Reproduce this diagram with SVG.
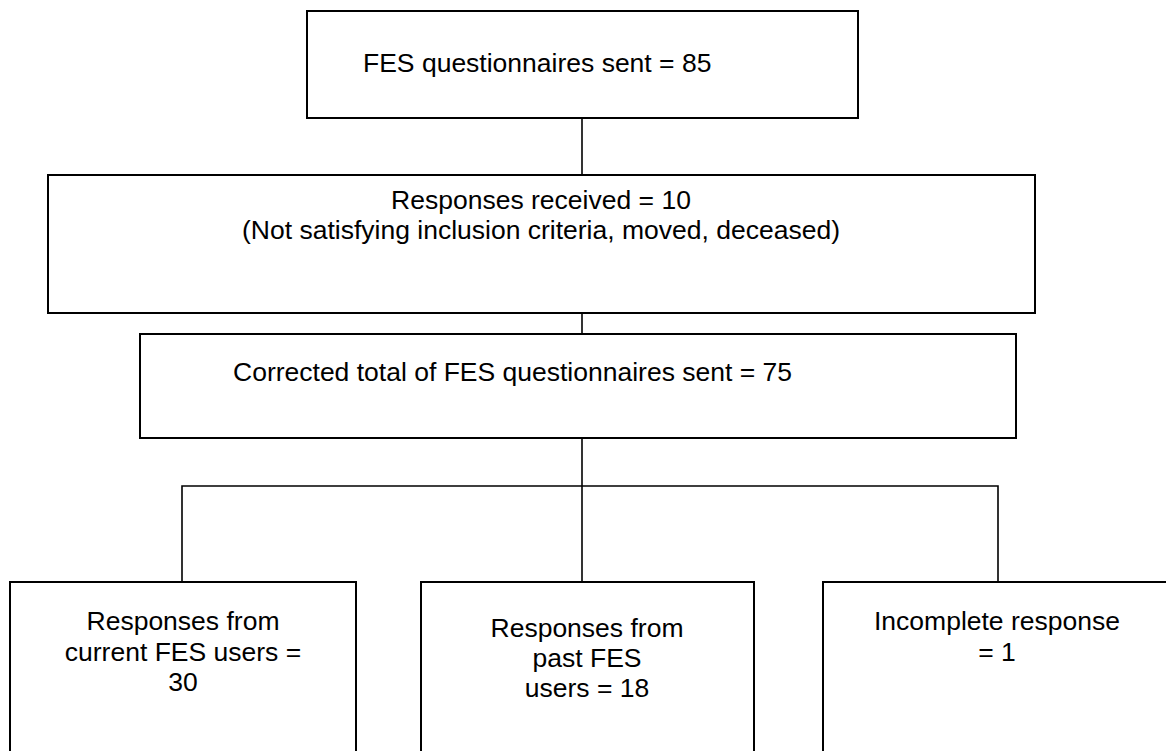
<svg xmlns="http://www.w3.org/2000/svg" width="1166" height="751" viewBox="0 0 1166 751">
  <style>
    .box { fill: #ffffff; stroke: #000000; stroke-width: 2; }
    .wire { fill: none; stroke: #000000; stroke-width: 1.6; }
    .label { font-family: "Liberation Sans", Arial, sans-serif; font-size: 26.5px; fill: #000000; }
    .mid { text-anchor: middle; }
  </style>
  <rect width="1166" height="751" fill="#ffffff"/>

  <!-- connectors -->
  <g id="connectors">
    <line class="wire" x1="582" y1="118" x2="582" y2="175"/>
    <line class="wire" x1="582" y1="313" x2="582" y2="334"/>
    <line class="wire" x1="582" y1="438" x2="582" y2="582"/>
    <polyline class="wire" points="182,582 182,486 998,486 998,582"/>
  </g>

  <g id="sent">
    <rect class="box" x="307" y="11" width="551" height="107"/>
    <text class="label" x="363" y="72">FES questionnaires sent = 85</text>
  </g>

  <g id="received">
    <rect class="box" x="48" y="175" width="987" height="138"/>
    <text class="label mid" x="541" y="209">Responses received = 10</text>
    <text class="label mid" x="541" y="239">(Not satisfying inclusion criteria, moved, deceased)</text>
  </g>

  <g id="corrected">
    <rect class="box" x="140" y="334" width="876" height="104"/>
    <text class="label" x="233" y="381">Corrected total of FES questionnaires sent = 75</text>
  </g>

  <g id="current">
    <rect class="box" x="10" y="582" width="346" height="190"/>
    <text class="label mid" x="183" y="630">Responses from</text>
    <text class="label mid" x="183" y="661">current FES users =</text>
    <text class="label mid" x="183" y="691">30</text>
  </g>

  <g id="past">
    <rect class="box" x="421" y="582" width="333" height="190"/>
    <text class="label mid" x="587" y="637">Responses from</text>
    <text class="label mid" x="587" y="667">past FES</text>
    <text class="label mid" x="587" y="697">users = 18</text>
  </g>

  <g id="incomplete">
    <rect class="box" x="823" y="582" width="360" height="190"/>
    <text class="label mid" x="997" y="630">Incomplete response</text>
    <text class="label mid" x="997" y="661">= 1</text>
  </g>
</svg>
